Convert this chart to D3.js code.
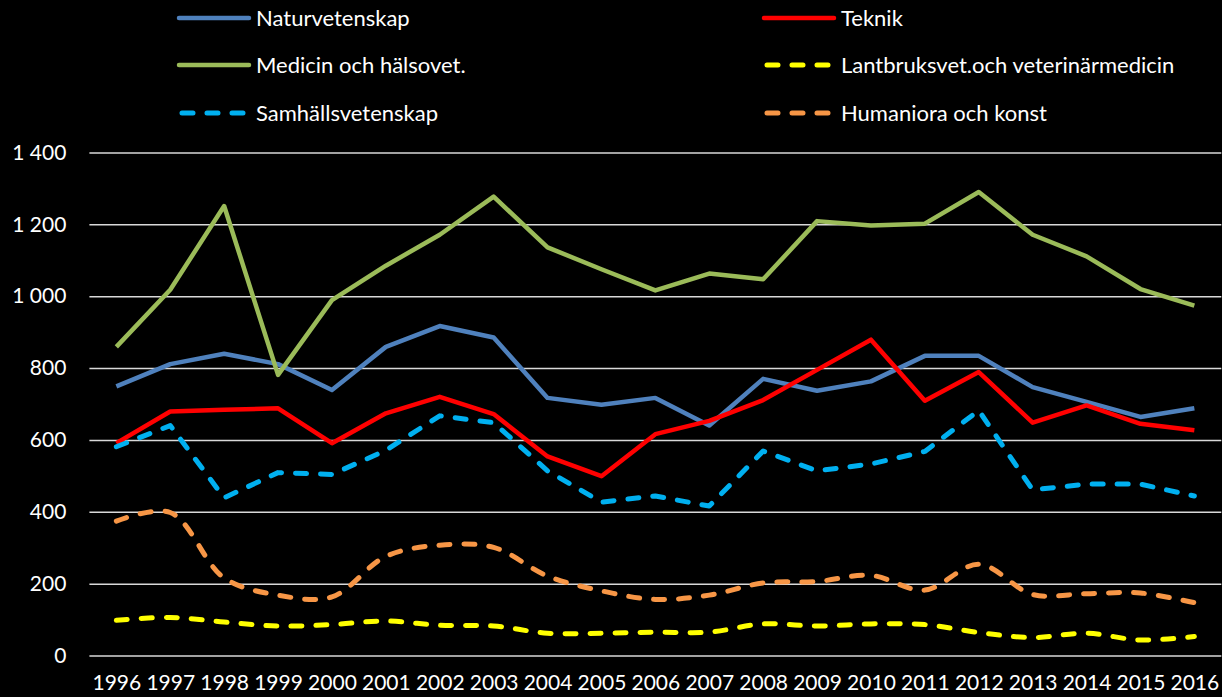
<!DOCTYPE html>
<html>
<head>
<meta charset="utf-8">
<script src="https://cdn.jsdelivr.net/npm/d3@7"></script>
<style>
  html, body { margin: 0; padding: 0; background: #000; }
  svg { display: block; }
</style>
</head>
<body>
<svg id="chart" width="1222" height="697"></svg>
<script>
const width = 1222
const height = 697
const margin = { top: 152.5, right: 0.7, bottom: 41.5, left: 89.4 }

const years = ['1996', '1997', '1998', '1999', '2000', '2001', '2002', '2003', '2004', '2005', '2006',
  '2007', '2008', '2009', '2010', '2011', '2012', '2013', '2014', '2015', '2016']

const naturvetenskap = [749, 811, 840, 811, 739, 859, 917, 885, 717, 698, 717, 640, 770, 737, 763, 834, 834, 747, 706, 664, 688]
const teknik = [591, 679, 684, 688, 591, 674, 720, 672, 554, 499, 616, 653, 711, 795, 879, 709, 789, 648, 696, 645, 627]
const medicin = [859, 1018, 1251, 781, 989, 1085, 1171, 1277, 1136, 1075, 1016, 1063, 1047, 1209, 1197, 1202, 1290, 1171, 1111, 1020, 974]
const lantbruk = [98, 106, 93, 82, 86, 96, 84, 82, 62, 62, 65, 65, 88, 82, 88, 86, 64, 50, 62, 43, 53]
const samhall = [581, 640, 439, 509, 504, 571, 667, 648, 514, 427, 444, 416, 569, 514, 533, 568, 682, 461, 477, 477, 444]
const humaniora = [374, 398, 216, 168, 163, 276, 307, 301, 221, 180, 156, 168, 202, 206, 223, 182, 254, 170, 172, 174, 147]

const yTicks = [0, 200, 400, 600, 800, 1000, 1200, 1400]

const series = [
  { name: 'Naturvetenskap', values: naturvetenskap, color: '#4f81bd', dashed: false, smooth: false },
  { name: 'Teknik', values: teknik, color: '#ff0000', dashed: false, smooth: false },
  { name: 'Medicin och hälsovet.', values: medicin, color: '#9bbb59', dashed: false, smooth: false },
  { name: 'Lantbruksvet.och veterinärmedicin', values: lantbruk, color: '#ffff00', dashed: true, smooth: true },
  { name: 'Samhällsvetenskap', values: samhall, color: '#00b0f0', dashed: true, smooth: false },
  { name: 'Humaniora och konst', values: humaniora, color: '#f79646', dashed: true, smooth: true }
]

const svg = d3.select('#chart')
svg.append('rect').attr('width', width).attr('height', height).attr('fill', '#000')

const x = d3.scalePoint()
  .domain(years)
  .range([margin.left, width - margin.right])
  .padding(0.5)

const y = d3.scaleLinear()
  .domain([0, 1400])
  .range([height - margin.bottom, margin.top])

// gridlines + y labels
const yAxis = svg.append('g')
  .attr('transform', `translate(${margin.left},0)`)
  .call(d3.axisLeft(y).tickValues(yTicks)
    .tickSize(-(width - margin.left - margin.right))
    .tickPadding(23)
    .tickFormat(d => d3.format(',')(d).replace(',', ' ')))
yAxis.select('.domain').remove()
yAxis.selectAll('.tick line').attr('stroke', '#d9d9d9').attr('stroke-width', 1.5)
yAxis.selectAll('.tick text')
  .attr('fill', '#fff')
  .style('font', '21px Lato, sans-serif')

// x labels
const xAxis = svg.append('g')
  .attr('transform', `translate(0,${height - margin.bottom})`)
  .call(d3.axisBottom(x).tickSize(0).tickPadding(20))
xAxis.select('.domain').remove()
xAxis.selectAll('.tick text')
  .attr('fill', '#fff')
  .style('font', '21px Lato, sans-serif')

const lineStraight = d3.line().x((d, i) => x(years[i])).y(d => y(d))
const lineSmooth = d3.line().x((d, i) => x(years[i])).y(d => y(d)).curve(d3.curveCatmullRom.alpha(0.5))

function styleLine(sel, s) {
  sel.attr('fill', 'none')
    .attr('stroke', s.color)
    .attr('stroke-width', s.dashed ? 5 : 4.5)
    .attr('stroke-linejoin', 'round')
    .attr('stroke-linecap', s.dashed ? 'round' : 'butt')
    .attr('stroke-dasharray', s.dashed ? '11,14' : null)
}

series.forEach(s => {
  svg.append('path')
    .attr('d', (s.smooth ? lineSmooth : lineStraight)(s.values))
    .call(styleLine, s)
})

// legend, two columns
const legendCols = [179, 764]
const legendRows = [18, 65, 113]
series.forEach((s, i) => {
  const lx = legendCols[i % 2]
  const ly = legendRows[Math.floor(i / 2)]
  const g = svg.append('g').attr('transform', `translate(${lx},${ly})`)
  g.append('line')
    .attr('x1', s.dashed ? 3 : 0).attr('x2', s.dashed ? 68 : 70)
    .attr('y1', 0).attr('y2', 0)
    .call(styleLine, s)
    .attr('stroke-linecap', 'round')
  g.append('text')
    .attr('x', 77)
    .attr('dy', '0.35em')
    .attr('fill', '#fff')
    .style('font', '22px Lato, sans-serif')
    .text(s.name)
})
</script>
</body>
</html>
